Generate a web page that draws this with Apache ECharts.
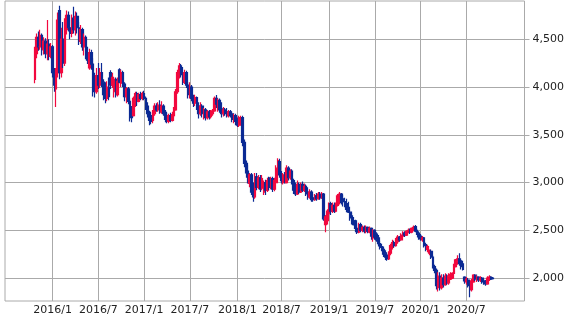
<!DOCTYPE html>
<html><head><meta charset="utf-8">
<script src="https://cdn.jsdelivr.net/npm/echarts@6/dist/echarts.min.js"></script>
<style>html,body{margin:0;padding:0;background:#fff}#c{width:567px;height:316px}</style>
</head><body><div id="c"></div>
<script>
// Weekly axis (Mondays) and tick labels
const axisStart = [2015, 6, 22];
const axisWeeks = 296;
const firstWeek = '2015/10/19';
const xTickLabels = ['2016/1','2016/7','2017/1','2017/7','2018/1','2018/7','2019/1','2019/7','2020/1','2020/7'];
const yTicks = [2000, 2500, 3000, 3500, 4000, 4500];
const yMin = 1760, yMax = 4900;

// Weekly candles: [open, close, low, high]
const ohlc2015 = [
[4080,4350,4040,4420],[4350,4520,4300,4560],[4520,4420,4380,4580],[4420,4540,4390,4600],[4540,4390,4330,4560],
[4390,4480,4340,4520],[4480,4350,4300,4510],[4350,4450,4280,4700],[4450,4320,4280,4500],[4320,4420,4300,4460],
[4420,4150,4100,4440]];
const ohlc2016 = [
[4150,4020,3950,4200],[3980,4150,3790,4200],[4150,4700,4100,4780],[4800,4150,4080,4850],[4150,4500,4100,4620],
[4500,4250,4200,4680],[4250,4650,4220,4720],[4600,4750,4550,4800],[4750,4620,4580,4790],[4620,4560,4500,4700],
[4560,4700,4520,4760],[4720,4600,4560,4840],[4600,4740,4540,4790],[4740,4620,4560,4780],[4620,4480,4440,4680],
[4480,4600,4450,4650],[4600,4420,4380,4620],[4420,4520,4330,4560],[4520,4330,4290,4540],[4330,4280,4240,4420],
[4200,4360,4180,4400],[4360,4240,4180,4390],[4240,4000,3900,4300],[4080,3950,3890,4150],[3950,4120,3930,4200],
[4120,4020,3980,4250],[4020,4150,3990,4200],[4150,4050,4000,4250],[4050,3920,3860,4080],[3920,3880,3830,4050],
[3880,4000,3850,4060],[4000,3900,3860,4100],[4150,4020,3980,4175],[4020,4100,3990,4150],[3950,4080,3890,4100],
[4080,3920,3890,4100],[3920,4060,3900,4100],[4180,4050,4040,4195],[4040,4150,4000,4180],[4150,4030,4000,4170],
[4030,3900,3850,4050],[3900,3980,3830,4000],[3980,3850,3820,4000],[3850,3700,3640,3880],[3760,3680,3630,3800],
[3700,3880,3690,3900],[3820,3930,3790,3950],[3930,3850,3800,3950],[3850,3920,3840,3940],[3920,3880,3860,3950],
[3880,3930,3860,3950],[3930,3880,3860,3960]];
const ohlc2017 = [
[3880,3800,3760,3900],[3800,3720,3680,3840],[3720,3650,3600,3750],[3700,3640,3610,3740],[3650,3720,3620,3760],
[3720,3800,3700,3830],[3800,3760,3740,3830],[3760,3810,3740,3840],[3810,3740,3720,3860],[3740,3800,3720,3850],
[3800,3720,3700,3820],[3720,3660,3630,3760],[3700,3640,3620,3740],[3640,3700,3620,3720],[3700,3650,3630,3730],
[3650,3710,3640,3740],[3700,3760,3680,3790],[3760,3950,3750,3980],[3950,4150,3930,4180],[4120,4220,4090,4250],
[4220,4130,4100,4240],[4150,4050,4020,4210],[4050,4150,4030,4180],[4150,4020,3990,4170],[4020,3920,3880,4050],
[3920,4000,3880,4050],[4000,3880,3850,4020],[3880,3830,3790,3920],[3830,3890,3800,3920],[3890,3790,3760,3900],
[3800,3720,3670,3840],[3720,3800,3700,3840],[3800,3720,3680,3820],[3700,3760,3660,3780],[3760,3680,3650,3780],
[3680,3740,3660,3760],[3740,3690,3660,3760],[3690,3740,3670,3760],[3720,3750,3700,3770],[3750,3880,3740,3900],
[3880,3820,3780,3915],[3800,3860,3740,3880],[3860,3760,3730,3880],[3770,3720,3680,3840],[3720,3760,3690,3790],
[3760,3720,3700,3780],[3740,3700,3680,3780],[3700,3740,3680,3760],[3740,3700,3680,3760],[3720,3660,3630,3740],
[3660,3700,3620,3720],[3700,3640,3600,3720]];
const ohlc2018 = [
[3640,3600,3580,3680],[3600,3680,3580,3700],[3630,3680,3600,3700],[3680,3420,3380,3700],[3420,3200,3160,3450],
[3200,3100,3050,3230],[3120,3020,2990,3180],[2990,3080,2950,3100],[3080,2900,2870,3100],[2950,2850,2800,3000],
[2850,3060,2830,3100],[3060,2950,2920,3100],[2950,3050,2930,3080],[3050,2930,2900,3080],[2940,3040,2920,3080],
[2900,3000,2870,3020],[3000,2920,2870,3030],[2920,3020,2900,3050],[3050,2950,2920,3060],[2960,3040,2930,3060],
[3040,2930,2900,3060],[2930,3020,2910,3050],[3000,3150,2990,3180],[3100,3230,3080,3255],[3220,3080,3050,3250],
[3080,3020,2990,3120],[3000,3080,2980,3100],[3080,3000,2990,3110],[3000,3150,2990,3180],[3150,3050,3020,3170],
[3050,3120,3030,3140],[3120,3000,2980,3140],[3020,2920,2880,3040],[2950,2880,2860,3000],[2880,2980,2870,3020],
[2980,2900,2880,3000],[2900,2980,2890,3000],[2980,2920,2900,3010],[2920,2960,2900,2990],[2960,2880,2860,2980],
[2900,2850,2820,2950],[2850,2900,2830,2930],[2900,2820,2800,2920],[2840,2820,2800,2880],[2820,2860,2810,2880],
[2860,2830,2810,2890],[2830,2880,2820,2900],[2880,2840,2820,2900],[2840,2880,2830,2900],[2880,2620,2600,2890],
[2560,2640,2480,2660],[2600,2700,2560,2720],[2680,2780,2660,2790]];
const ohlc2019 = [
[2780,2700,2660,2800],[2700,2760,2680,2790],[2760,2700,2680,2790],[2700,2760,2690,2790],[2760,2860,2750,2880],
[2800,2880,2770,2900],[2880,2790,2770,2890],[2830,2800,2750,2870],[2800,2760,2740,2840],[2780,2720,2690,2830],
[2740,2690,2680,2800],[2690,2630,2600,2710],[2650,2580,2560,2680],[2600,2560,2550,2640],[2600,2520,2480,2610],
[2520,2480,2460,2570],[2480,2560,2470,2580],[2560,2500,2480,2580],[2500,2530,2480,2550],[2530,2490,2470,2550],
[2490,2530,2470,2550],[2530,2490,2470,2540],[2480,2520,2470,2540],[2520,2440,2400,2530],[2420,2500,2380,2510],
[2500,2430,2400,2510],[2460,2400,2380,2480],[2420,2360,2330,2450],[2360,2320,2300,2390],[2330,2300,2280,2360],
[2300,2250,2220,2330],[2260,2220,2190,2290],[2240,2200,2180,2270],[2200,2260,2190,2280],[2260,2340,2240,2360],
[2320,2370,2300,2400],[2370,2340,2320,2390],[2340,2400,2330,2420],[2380,2430,2360,2450],[2430,2400,2380,2440],
[2400,2450,2390,2470],[2440,2470,2430,2490],[2470,2450,2430,2490],[2450,2490,2440,2500],[2480,2500,2470,2520],
[2500,2480,2460,2520],[2480,2520,2470,2530],[2510,2530,2490,2550],[2540,2490,2480,2555],[2500,2470,2450,2520],
[2470,2430,2400,2490],[2440,2410,2390,2460]];
const ohlc2020 = [
[2400,2420,2380,2440],[2420,2340,2320,2430],[2350,2300,2280,2370],[2300,2330,2270,2350],[2260,2290,2240,2300],
[2280,2220,2200,2300],[2220,2120,2100,2240],[2120,2080,2050,2140],[2080,1920,1880,2100],[1900,2020,1860,2060],
[2020,1900,1870,2060],[1900,2000,1880,2040],[2000,1930,1900,2040],[1930,2020,1920,2050],[2020,1950,1930,2040],
[1950,2020,1930,2050],[1990,2040,1980,2060],[2000,2050,1990,2060],[2050,2130,2040,2150],[2120,2190,2110,2200],
[2170,2200,2140,2240],[2200,2150,2130,2260],[2180,2120,2090,2200],[2150,2090,2080,2180],[2010,1970,1940,2020],
[1960,1990,1930,2010],[1980,1920,1900,2000],[1920,1880,1800,1940],[1880,1970,1860,1990],[1960,2030,1950,2040],
[2030,1990,1970,2040],[1980,2010,1960,2030],[2010,1980,1960,2020],[1980,2000,1960,2020],[2000,1960,1940,2010],
[1970,1950,1930,1990],[1960,1940,1920,1980],[1940,2000,1930,2020],[1990,2010,1970,2030],[2010,1990,1980,2020],
[2000,1995,1985,2010]];

// Build categories
const categories = [];
const t0 = Date.UTC(axisStart[0], axisStart[1] - 1, axisStart[2]);
for (let i = 0; i < axisWeeks; i++) {
  const d = new Date(t0 + i * 7 * 864e5);
  categories.push(d.getUTCFullYear() + '/' + (d.getUTCMonth() + 1) + '/' + d.getUTCDate());
}
function halfYearLabel(cat) {
  const p = cat.split('/').map(Number);
  const t = Date.UTC(p[0], p[1] - 1, p[2]);
  for (let k = 0; k < 7; k++) {
    const dt = new Date(t + k * 864e5);
    if (dt.getUTCDate() === 1 && (dt.getUTCMonth() === 0 || dt.getUTCMonth() === 6)) {
      const lab = dt.getUTCFullYear() + '/' + (dt.getUTCMonth() + 1);
      return xTickLabels.indexOf(lab) >= 0 ? lab : '';
    }
  }
  return '';
}
const weekly = [].concat(ohlc2015, ohlc2016, ohlc2017, ohlc2018, ohlc2019, ohlc2020);
const startIdx = categories.indexOf(firstWeek);
const candles = categories.map((c, i) => {
  const k = i - startIdx;
  return (k >= 0 && k < weekly.length) ? weekly[k] : '-';
});

const gridColor = '#aaaaaa';
const chart = echarts.init(document.getElementById('c'), null, {renderer: 'canvas'});
chart.setOption({
  animation: false,
  backgroundColor: '#fff',
  grid: {left: 5, right: 39, top: 1, bottom: 15, show: true, borderColor: gridColor, borderWidth: 1, backgroundColor: 'transparent'},
  xAxis: {
    type: 'category',
    data: categories,
    boundaryGap: false,
    axisLine: {show: false},
    axisTick: {show: false},
    axisLabel: {
      interval: (i, v) => halfYearLabel(v) !== '',
      formatter: v => halfYearLabel(v),
      color: '#222', fontSize: 11, fontFamily: 'DejaVu Sans', margin: 4
    },
    splitLine: {show: true, interval: (i, v) => halfYearLabel(v) !== '', lineStyle: {color: gridColor, width: 1}}
  },
  yAxis: {
    type: 'value',
    position: 'right',
    min: yMin, max: yMax,
    scale: true,
    axisLine: {show: false},
    axisTick: {show: true, length: 5, customValues: yTicks, lineStyle: {color: gridColor}},
    axisLabel: {customValues: yTicks, color: '#222', fontSize: 11, fontFamily: 'DejaVu Sans', margin: 8,
      formatter: v => v.toLocaleString('en-US')},
    splitLine: {show: true, lineStyle: {color: gridColor, width: 1}}
  },
  series: [{
    type: 'candlestick',
    data: candles,
    barWidth: 2.2,
    itemStyle: {color: '#f2083e', color0: '#0b2a94', borderColor: '#f2083e', borderColor0: '#0b2a94', borderWidth: 1.2}
  }]
});
</script></body></html>
